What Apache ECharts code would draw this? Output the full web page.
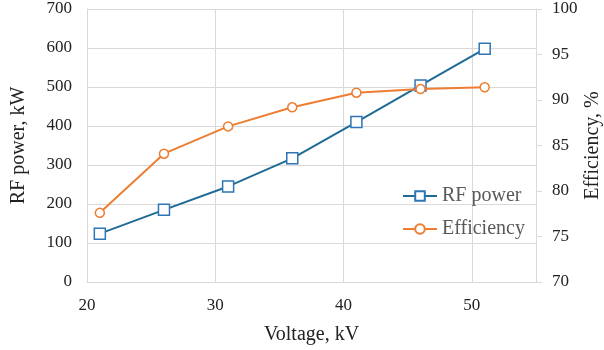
<!DOCTYPE html>
<html><head><meta charset="utf-8">
<script src="https://cdn.jsdelivr.net/npm/echarts@6/dist/echarts.min.js"></script>
<style>html,body{margin:0;padding:0;background:#fff}#c{width:604px;height:350px}</style>
</head><body><div id="c"></div>
<script>
const voltage = [21, 26, 31, 36, 41, 46, 51];
const rfPower = [124, 185, 245, 317, 410, 504, 598];
const efficiency = [77.6, 84.1, 87.1, 89.2, 90.8, 91.2, 91.4];
const font = 'Liberation Serif';
const chart = echarts.init(document.getElementById('c'));
chart.setOption({
  animation: false,
  textStyle: {fontFamily: font},
  grid: {left: 87, top: 9, right: 68, bottom: 68, containLabel: false, outerBoundsMode: 'none'},
  legend: {
    orient: 'vertical', left: 397, top: 181, itemWidth: 34, itemHeight: 12, itemGap: 13,
    textStyle: {fontFamily: font, fontSize: 20, color: '#595959'},
    data: ['RF power', 'Efficiency']
  },
  xAxis: {
    type: 'value', min: 20, max: 55, interval: 10,
    name: 'Voltage, kV', nameLocation: 'middle', nameGap: 43,
    nameTextStyle: {fontFamily: font, fontSize: 20, color: '#222'},
    axisLine: {show: true, lineStyle: {color: '#d9d9d9', width: 1}},
    axisTick: {show: false},
    axisLabel: {fontFamily: font, fontSize: 17, color: '#222', margin: 15, showMaxLabel: false,
      formatter: v => (v === 55 ? '' : v)},
    splitLine: {show: true, lineStyle: {color: '#d9d9d9', width: 1}}
  },
  yAxis: [{
    type: 'value', min: 0, max: 700, interval: 100,
    name: 'RF power, kW', nameLocation: 'middle', nameGap: 58,
    nameTextStyle: {fontFamily: font, fontSize: 20, color: '#222'},
    axisLine: {show: true, lineStyle: {color: '#d9d9d9', width: 1}},
    axisTick: {show: false},
    axisLabel: {fontFamily: font, fontSize: 17, color: '#222', margin: 15},
    splitLine: {show: true, lineStyle: {color: '#d9d9d9', width: 1}}
  }, {
    type: 'value', min: 70, max: 100, interval: 5, position: 'right',
    name: 'Efficiency, %', nameLocation: 'middle', nameGap: 47, nameMoveOverlap: false,
    nameTextStyle: {fontFamily: font, fontSize: 20, color: '#222'},
    axisLine: {show: true, lineStyle: {color: '#d9d9d9', width: 1}},
    axisTick: {show: true, length: 6, lineStyle: {color: '#d9d9d9'}},
    axisLabel: {fontFamily: font, fontSize: 17, color: '#222', margin: 16},
    splitLine: {show: false}
  }],
  series: [{
    name: 'RF power', type: 'line', yAxisIndex: 0,
    data: voltage.map((v, i) => [v, rfPower[i]]),
    symbol: 'rect', symbolSize: 11,
    lineStyle: {color: '#1f6b96', width: 2},
    itemStyle: {color: '#fff', borderColor: '#2e75b6', borderWidth: 1.5},
    z: 3
  }, {
    name: 'Efficiency', type: 'line', yAxisIndex: 1,
    data: voltage.map((v, i) => [v, efficiency[i]]),
    symbol: 'circle', symbolSize: 9,
    lineStyle: {color: '#ed7d31', width: 2},
    itemStyle: {color: '#fff', borderColor: '#ed7d31', borderWidth: 1.5},
    z: 4
  }]
});
</script></body></html>
